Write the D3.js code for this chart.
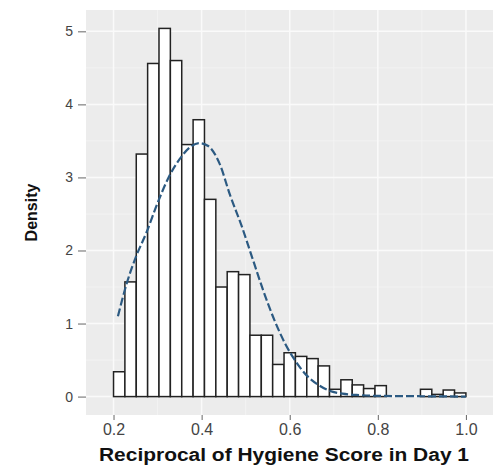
<!DOCTYPE html>
<html><head><meta charset="utf-8">
<script src="https://cdn.jsdelivr.net/npm/d3@7"></script>
<style>html,body{margin:0;padding:0;background:#fff;}svg{display:block;}</style>
</head><body>
<script>
// ---- data ----
const binStart = 0.2;
const binWidth = 0.8 / 31;
const binDensity = [0.34, 1.57, 3.32, 4.56, 5.04, 4.6, 3.45, 3.79, 2.7, 1.5, 1.71, 1.67, 0.84, 0.84, 0.44,
  0.6, 0.55, 0.52, 0.42, 0.1, 0.23, 0.16, 0.11, 0.15, 0, 0, 0, 0.1, 0.03, 0.09, 0.05];
const curveX = [0.21, 0.23, 0.25, 0.275, 0.30, 0.325, 0.35, 0.375, 0.395, 0.415, 0.44, 0.465, 0.49, 0.515,
  0.54, 0.565, 0.59, 0.615, 0.64, 0.665, 0.69, 0.72, 0.76, 0.80, 0.90, 1.0];
const curveY = [1.10, 1.55, 1.90, 2.25, 2.65, 3.0, 3.25, 3.42, 3.47, 3.43, 3.2, 2.75, 2.35, 1.9,
  1.45, 1.05, 0.72, 0.47, 0.28, 0.16, 0.08, 0.04, 0.02, 0.01, 0.005, 0.0];
const xTicks = [0.2, 0.4, 0.6, 0.8, 1.0];
const xTickLabels = ["0.2", "0.4", "0.6", "0.8", "1.0"];
const yTicks = [0, 1, 2, 3, 4, 5];
const xTitle = "Reciprocal of Hygiene Score in Day 1";
const yTitle = "Density";

// ---- layout ----
const W = 499, H = 474;
const P = {l: 86, r: 493, t: 10, b: 415};
const font = "'Liberation Sans', Arial, sans-serif";

const svg = d3.select("body").append("svg").attr("width", W).attr("height", H);

const x = d3.scaleLinear().domain([0.1375, 1.0615]).range([P.l, P.r]);
const y = d3.scaleLinear().domain([-0.252, 5.292]).range([P.b, P.t]);

// panel background
svg.append("rect").attr("x", P.l).attr("y", P.t).attr("width", P.r - P.l).attr("height", P.b - P.t)
  .attr("fill", "#ececec");

// minor grid
const xMinor = [0.3, 0.5, 0.7, 0.9];
const yMinor = [0.5, 1.5, 2.5, 3.5, 4.5];
const g = svg.append("g");
g.selectAll(".xm").data(xMinor).join("line")
  .attr("x1", d => x(d)).attr("x2", d => x(d)).attr("y1", P.t).attr("y2", P.b)
  .attr("stroke", "#f5f5f5").attr("stroke-width", 0.8);
g.selectAll(".ym").data(yMinor).join("line")
  .attr("y1", d => y(d)).attr("y2", d => y(d)).attr("x1", P.l).attr("x2", P.r)
  .attr("stroke", "#f5f5f5").attr("stroke-width", 0.8);
// major grid
g.selectAll(".xM").data(xTicks).join("line")
  .attr("x1", d => x(d)).attr("x2", d => x(d)).attr("y1", P.t).attr("y2", P.b)
  .attr("stroke", "#fafafa").attr("stroke-width", 1.5);
g.selectAll(".yM").data(yTicks).join("line")
  .attr("y1", d => y(d)).attr("y2", d => y(d)).attr("x1", P.l).attr("x2", P.r)
  .attr("stroke", "#fafafa").attr("stroke-width", 1.5);

// histogram
const bars = binDensity.map((d, i) => ({x0: binStart + i * binWidth, x1: binStart + (i + 1) * binWidth, d}));
svg.append("g").selectAll("rect").data(bars).join("rect")
  .attr("x", b => x(b.x0)).attr("width", b => x(b.x1) - x(b.x0))
  .attr("y", b => y(b.d)).attr("height", b => y(0) - y(b.d))
  .attr("fill", "#ffffff").attr("stroke", "#222").attr("stroke-width", 1.5);

// normal curve
const line = d3.line().x((d, i) => x(curveX[i])).y(d => y(d)).curve(d3.curveMonotoneX);
svg.append("path").datum(curveY).attr("d", line)
  .attr("fill", "none").attr("stroke", "#2c5a82").attr("stroke-width", 2.2)
  .attr("stroke-dasharray", "8,3");

// axes
const xAxis = svg.append("g").attr("transform", `translate(0,${P.b})`)
  .call(d3.axisBottom(x).tickValues(xTicks).tickFormat((d, i) => xTickLabels[i]).tickSize(5).tickPadding(4));
xAxis.select(".domain").remove();
xAxis.selectAll("line").attr("stroke", "#666");
xAxis.selectAll("text").attr("font-family", font).attr("font-size", 16).attr("fill", "#444");

const yAxis = svg.append("g").attr("transform", `translate(${P.l},0)`)
  .call(d3.axisLeft(y).tickValues(yTicks).tickFormat(d3.format("d")).tickSize(8).tickPadding(5));
yAxis.select(".domain").remove();
yAxis.selectAll("line").attr("stroke", "#666");
yAxis.selectAll("text").attr("font-family", font).attr("font-size", 14).attr("fill", "#444");

// titles
svg.append("text").attr("x", 284).attr("y", 461)
  .attr("text-anchor", "middle").attr("font-family", font).attr("font-weight", "bold")
  .attr("font-size", 18).attr("textLength", 370).attr("lengthAdjust", "spacingAndGlyphs")
  .attr("fill", "#111").text(xTitle);
svg.append("text").attr("transform", `translate(37,${(P.t + P.b) / 2}) rotate(-90)`)
  .attr("text-anchor", "middle").attr("font-family", font).attr("font-weight", "bold")
  .attr("font-size", 16).attr("fill", "#111").text(yTitle);
</script>
</body></html>
